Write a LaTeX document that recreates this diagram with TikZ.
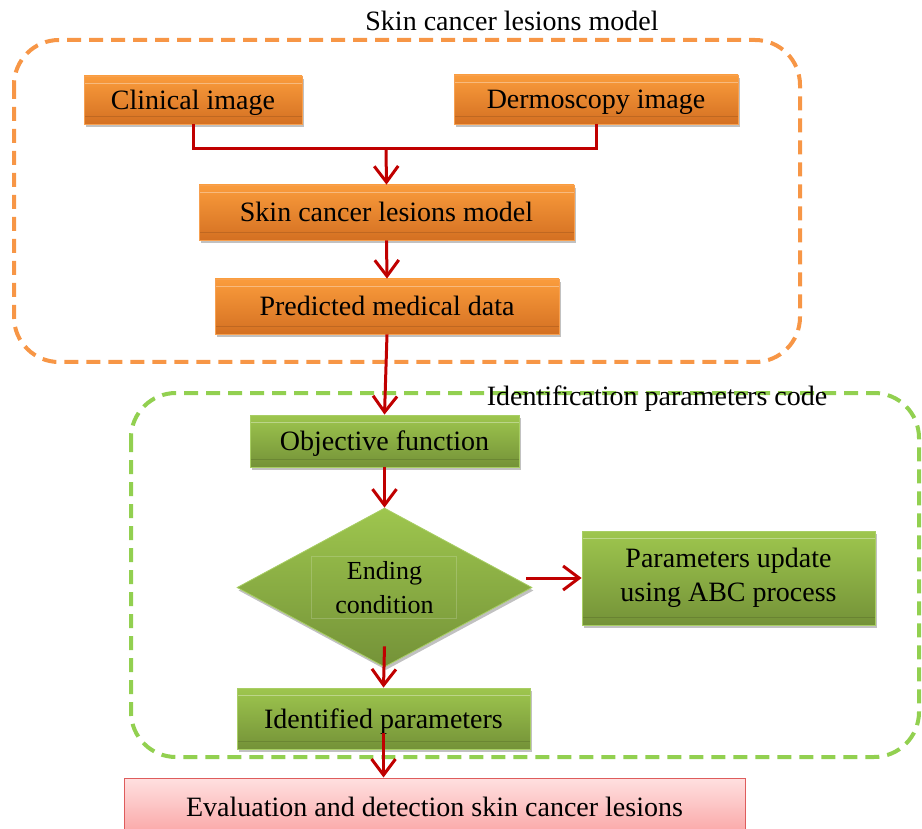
\documentclass[tikz,border=0pt]{standalone}
\usepackage{fontspec}
\setmainfont{Liberation Serif}
\usetikzlibrary{arrows.meta,shapes.geometric,shadows,calc}
\definecolor{oTop}{RGB}{250,156,60}
\definecolor{oBot}{RGB}{212,112,34}
\definecolor{oEdge}{RGB}{247,160,80}
\definecolor{gTop}{RGB}{158,198,78}
\definecolor{gBot}{RGB}{116,146,56}
\definecolor{gEdge}{RGB}{168,206,100}
\definecolor{pTop}{RGB}{255,224,224}
\definecolor{pBot}{RGB}{250,165,165}
\definecolor{pEdge}{RGB}{222,92,92}
\definecolor{arrRed}{RGB}{192,0,0}
\definecolor{oDash}{RGB}{247,150,70}
\definecolor{gDash}{RGB}{146,208,80}
\begin{document}
\begin{tikzpicture}[x=1pt,y=-1pt,
  bigfont/.style={font=\fontsize{28}{34}\selectfont},
  oneline/.style={text height=19pt,text depth=0pt},
  bevel/.style={path picture={
    \draw[white,opacity=0.35,line width=0.8pt]
      ([yshift=-7pt]path picture bounding box.north west) -- ([yshift=-7pt]path picture bounding box.north east);
    \draw[black,opacity=0.12,line width=0.8pt]
      ([yshift=8pt]path picture bounding box.south west) -- ([yshift=8pt]path picture bounding box.south east);}},
  shadowed/.style={drop shadow={shadow xshift=1.5pt,shadow yshift=-3pt,opacity=0.35,fill=black!70}},
  obox/.style={rectangle,bigfont,oneline,inner sep=0pt,top color=oTop,bottom color=oBot,draw=oEdge,line width=0.8pt,bevel,shadowed},
  gbox/.style={rectangle,bigfont,inner sep=0pt,top color=gTop,bottom color=gBot,draw=gEdge,line width=0.8pt,bevel,shadowed,align=center},
  gdia/.style={diamond,aspect=1.85,inner sep=0pt,top color=gTop,bottom color=gBot,draw=gEdge,line width=0.8pt,shadowed,
    align=center,font=\fontsize{26}{34}\selectfont},
  pbox/.style={rectangle,bigfont,inner sep=0pt,top color=pTop,bottom color=pBot,draw=pEdge,line width=1pt},
  lbl/.style={bigfont,inner sep=0pt},
  conn/.style={draw=arrRed,line width=3pt},
  arr/.style={conn,-{Straight Barb[length=16pt,width=24pt]}},
  odashbox/.style={draw=oDash,line width=4pt,dash pattern=on 14pt off 8pt,rounded corners=45pt},
  gdashbox/.style={draw=gDash,line width=4pt,dash pattern=on 14pt off 8pt,rounded corners=45pt},
]
\useasboundingbox (0,0) rectangle (922,829);

% containers
\draw[odashbox] (14,40) rectangle (800,362);
\node[lbl] (t1) at (512,21) {Skin cancer lesions model};
\draw[gdashbox] (131,393) rectangle (919,757);

% nodes
\node[obox,minimum width=218pt,minimum height=48pt] (clin) at (193,100) {Clinical image};
\node[obox,minimum width=284pt,minimum height=49pt] (derm) at (596,99.5) {Dermoscopy image};
\node[obox,minimum width=375pt,minimum height=55pt] (skin) at (386.5,212.5) {Skin cancer lesions model};
\node[obox,minimum width=344pt,minimum height=55pt] (pred) at (387,306.5) {Predicted medical data};
\node[gbox,oneline,minimum width=269pt,minimum height=52pt] (obj) at (384.5,441) {Objective function};
\node[gdia,minimum width=295pt,minimum height=159pt] (dia) at (384.5,587.5) {Ending\\condition};
\draw[white,opacity=0.18,line width=0.6pt] (311,556) rectangle (456,618);
\node[gbox,minimum width=293pt,minimum height=94pt] (par) at (728.5,578) {Parameters update\\using ABC process};
\node[gbox,oneline,minimum width=293pt,minimum height=61pt] (iden) at (383.5,718.5) {Identified parameters};
\node[pbox,minimum width=621pt,minimum height=58pt] (eval) at (434.5,807) {Evaluation and detection skin cancer lesions};

\node[lbl] (t2) at (657,399) {Identification parameters code};

% connectors
\coordinate (j) at (386,149);
\draw[conn] (clin.south) |- (j) -| (derm.south);
\draw[arr] (j) -- (skin.north);
\draw[arr] (skin.south) -- (pred.north);
\draw[arr] (pred.south) -- (obj.north);
\draw[arr] (obj.south) -- (dia.north);
\draw[arr] ($(dia.east |- par.west)+(-6,0)$) -- (par.west);
\draw[arr] ($(dia.south)+(0,-21)$) -- (iden.north);
\draw[arr] ($(iden.south)+(0,-16)$) -- (iden.south |- eval.north);
\end{tikzpicture}
\end{document}
